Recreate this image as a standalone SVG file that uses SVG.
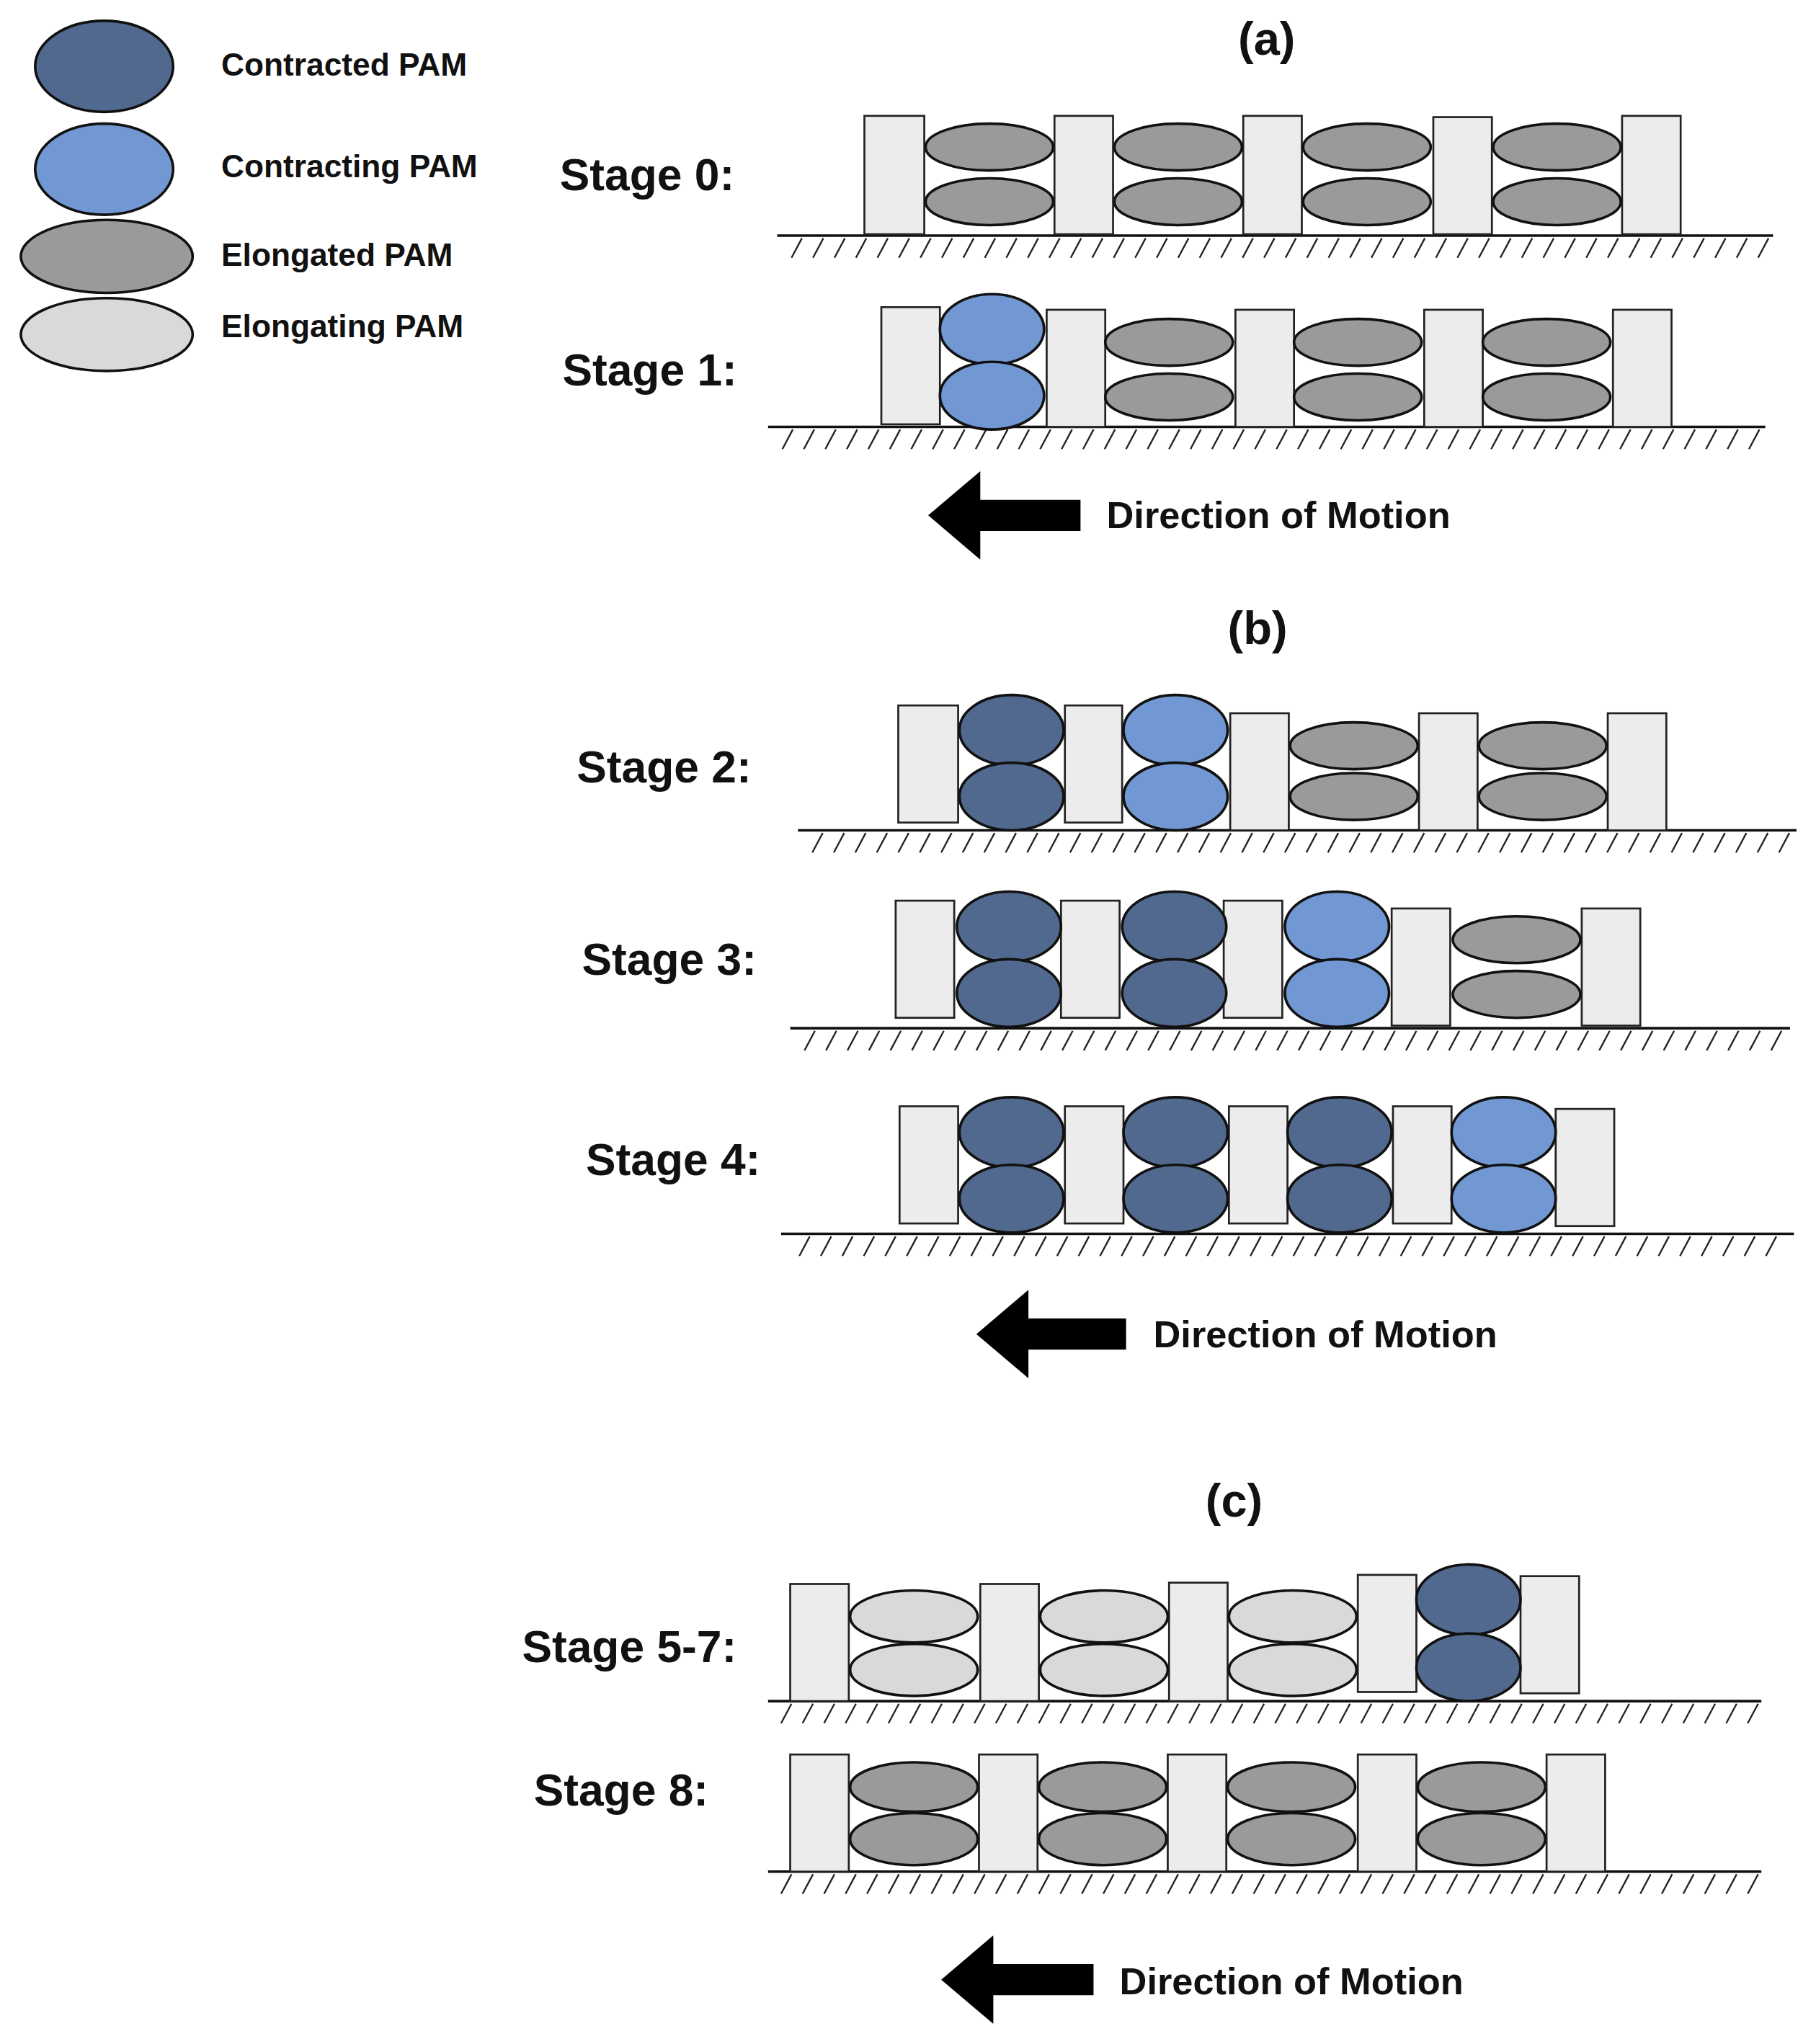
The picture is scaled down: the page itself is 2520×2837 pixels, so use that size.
<svg xmlns="http://www.w3.org/2000/svg" width="2520" height="2837" viewBox="0 0 2520 2837">
<style>
text{font-family:"Liberation Sans",Arial,sans-serif;font-weight:bold;fill:#111}
.lg{font-size:24.5px}.st{font-size:34.5px}.ti{font-size:36px}.dm{font-size:29px}
.b{fill:#ececec;stroke:#222;stroke-width:1.5}
.cd{fill:#52698f;stroke:#111;stroke-width:2}
.cg{fill:#7198d2;stroke:#111;stroke-width:2}
.eg{fill:#9b9999;stroke:#111;stroke-width:2}
.el{fill:#d9d9d9;stroke:#111;stroke-width:2}
.gl{stroke:#111;stroke-width:2}
.hl{fill:none;stroke:#222;stroke-width:1.3}
</style>
<defs>
<path id="hl" d="M16 2l-8 15m24.5-15l-8 15m24.5-15l-8 15m24.5-15l-8 15m24.5-15l-8 15m24.5-15l-8 15m24.5-15l-8 15m24.5-15l-8 15m24.5-15l-8 15m24.5-15l-8 15m24.5-15l-8 15m24.5-15l-8 15m24.5-15l-8 15m24.5-15l-8 15m24.5-15l-8 15m24.5-15l-8 15m24.5-15l-8 15m24.5-15l-8 15m24.5-15l-8 15m24.5-15l-8 15m24.5-15l-8 15m24.5-15l-8 15m24.5-15l-8 15m24.5-15l-8 15m24.5-15l-8 15m24.5-15l-8 15m24.5-15l-8 15m24.5-15l-8 15m24.5-15l-8 15m24.5-15l-8 15m24.5-15l-8 15m24.5-15l-8 15m24.5-15l-8 15m24.5-15l-8 15m24.5-15l-8 15m24.5-15l-8 15m24.5-15l-8 15m24.5-15l-8 15m24.5-15l-8 15m24.5-15l-8 15m24.5-15l-8 15m24.5-15l-8 15m24.5-15l-8 15m24.5-15l-8 15m24.5-15l-8 15m24.5-15l-8 15"/>
</defs>
<rect width="2520" height="2837" fill="#fff"/>
<g transform="scale(1.8065)">
<g id="legend">
<ellipse class="cd" cx="80" cy="51" rx="53" ry="35"/><text class="lg" x="170" y="58">Contracted PAM</text>
<ellipse class="cg" cx="80" cy="130" rx="53" ry="35"/><text class="lg" x="170" y="136">Contracting PAM</text>
<ellipse class="eg" cx="82" cy="197" rx="66" ry="28"/><text class="lg" x="170" y="204">Elongated PAM</text>
<ellipse class="el" cx="82" cy="257" rx="66" ry="28"/><text class="lg" x="170" y="259">Elongating PAM</text>
</g>
<text class="ti" x="973" y="42" text-anchor="middle">(a)</text>
<text class="ti" x="966" y="495" text-anchor="middle">(b)</text>
<text class="ti" x="948" y="1165" text-anchor="middle">(c)</text>
<g id="grounds">
<line class="gl" x1="597" y1="181" x2="1362" y2="181"/><use href="#hl" class="hl" x="600" y="181"/>
<line class="gl" x1="590" y1="328" x2="1356" y2="328"/><use href="#hl" class="hl" x="593" y="328"/>
<line class="gl" x1="613" y1="638" x2="1380" y2="638"/><use href="#hl" class="hl" x="616" y="638"/>
<line class="gl" x1="607" y1="790" x2="1375" y2="790"/><use href="#hl" class="hl" x="610" y="790"/>
<line class="gl" x1="600" y1="948" x2="1378" y2="948"/><use href="#hl" class="hl" x="606" y="948"/>
<line class="gl" x1="590" y1="1307" x2="1353" y2="1307"/><use href="#hl" class="hl" x="592" y="1307"/>
<line class="gl" x1="590" y1="1438" x2="1353" y2="1438"/><use href="#hl" class="hl" x="592" y="1438"/>
</g>
<g id="stage0">
<text class="st" x="430" y="146">Stage 0:</text>
<rect class="b" x="664" y="89" width="46" height="91"/><rect class="b" x="810" y="89" width="45" height="91"/><rect class="b" x="955" y="89" width="45" height="91"/><rect class="b" x="1101" y="90" width="45" height="90"/><rect class="b" x="1246" y="89" width="45" height="91"/>
<ellipse class="eg" cx="760" cy="113" rx="49" ry="18"/><ellipse class="eg" cx="760" cy="155" rx="49" ry="18"/>
<ellipse class="eg" cx="905" cy="113" rx="49" ry="18"/><ellipse class="eg" cx="905" cy="155" rx="49" ry="18"/>
<ellipse class="eg" cx="1050" cy="113" rx="49" ry="18"/><ellipse class="eg" cx="1050" cy="155" rx="49" ry="18"/>
<ellipse class="eg" cx="1196" cy="113" rx="49" ry="18"/><ellipse class="eg" cx="1196" cy="155" rx="49" ry="18"/>
</g>
<g id="stage1">
<text class="st" x="432" y="296">Stage 1:</text>
<rect class="b" x="677" y="236" width="45" height="90"/><rect class="b" x="804" y="238" width="45" height="90"/><rect class="b" x="949" y="238" width="45" height="90"/><rect class="b" x="1094" y="238" width="45" height="90"/><rect class="b" x="1239" y="238" width="45" height="90"/>
<ellipse class="cg" cx="762" cy="253" rx="40" ry="27"/><ellipse class="cg" cx="762" cy="304" rx="40" ry="26"/>
<ellipse class="eg" cx="898" cy="263" rx="49" ry="18"/><ellipse class="eg" cx="898" cy="305" rx="49" ry="18"/>
<ellipse class="eg" cx="1043" cy="263" rx="49" ry="18"/><ellipse class="eg" cx="1043" cy="305" rx="49" ry="18"/>
<ellipse class="eg" cx="1188" cy="263" rx="49" ry="18"/><ellipse class="eg" cx="1188" cy="305" rx="49" ry="18"/>
</g>
<g id="arrowA"><polygon points="713,396 753,362 753,384 830,384 830,408 753,408 753,430" fill="#000"/><text class="dm" x="850" y="406">Direction of Motion</text></g>
<g id="stage2">
<text class="st" x="443" y="601">Stage 2:</text>
<rect class="b" x="690" y="542" width="46" height="90"/><rect class="b" x="818" y="542" width="44" height="90"/><rect class="b" x="945" y="548" width="45" height="90"/><rect class="b" x="1090" y="548" width="45" height="90"/><rect class="b" x="1235" y="548" width="45" height="90"/>
<ellipse class="cd" cx="777" cy="561" rx="40" ry="27"/><ellipse class="cd" cx="777" cy="612" rx="40" ry="26"/>
<ellipse class="cg" cx="903" cy="561" rx="40" ry="27"/><ellipse class="cg" cx="903" cy="612" rx="40" ry="26"/>
<ellipse class="eg" cx="1040" cy="573" rx="49" ry="18"/><ellipse class="eg" cx="1040" cy="612" rx="49" ry="18"/>
<ellipse class="eg" cx="1185" cy="573" rx="49" ry="18"/><ellipse class="eg" cx="1185" cy="612" rx="49" ry="18"/>
</g>
<g id="stage3">
<text class="st" x="447" y="749">Stage 3:</text>
<rect class="b" x="688" y="692" width="45" height="90"/><rect class="b" x="815" y="692" width="45" height="90"/><rect class="b" x="940" y="692" width="45" height="90"/><rect class="b" x="1069" y="698" width="45" height="90"/><rect class="b" x="1215" y="698" width="45" height="90"/>
<ellipse class="cd" cx="775" cy="712" rx="40" ry="27"/><ellipse class="cd" cx="775" cy="763" rx="40" ry="26"/>
<ellipse class="cd" cx="902" cy="712" rx="40" ry="27"/><ellipse class="cd" cx="902" cy="763" rx="40" ry="26"/>
<ellipse class="cg" cx="1027" cy="712" rx="40" ry="27"/><ellipse class="cg" cx="1027" cy="763" rx="40" ry="26"/>
<ellipse class="eg" cx="1165" cy="722" rx="49" ry="18"/><ellipse class="eg" cx="1165" cy="764" rx="49" ry="18"/>
</g>
<g id="stage4">
<text class="st" x="450" y="903">Stage 4:</text>
<rect class="b" x="691" y="850" width="45" height="90"/><rect class="b" x="818" y="850" width="45" height="90"/><rect class="b" x="944" y="850" width="45" height="90"/><rect class="b" x="1070" y="850" width="45" height="90"/><rect class="b" x="1195" y="852" width="45" height="90"/>
<ellipse class="cd" cx="777" cy="870" rx="40" ry="27"/><ellipse class="cd" cx="777" cy="921" rx="40" ry="26"/>
<ellipse class="cd" cx="903" cy="870" rx="40" ry="27"/><ellipse class="cd" cx="903" cy="921" rx="40" ry="26"/>
<ellipse class="cd" cx="1029" cy="870" rx="40" ry="27"/><ellipse class="cd" cx="1029" cy="921" rx="40" ry="26"/>
<ellipse class="cg" cx="1155" cy="870" rx="40" ry="27"/><ellipse class="cg" cx="1155" cy="921" rx="40" ry="26"/>
</g>
<g id="arrowB"><polygon points="750,1025 790,991 790,1013 865,1013 865,1037 790,1037 790,1059" fill="#000"/><text class="dm" x="886" y="1035">Direction of Motion</text></g>
<g id="stage57">
<text class="st" x="401" y="1277">Stage 5-7:</text>
<rect class="b" x="607" y="1217" width="45" height="90"/><rect class="b" x="753" y="1217" width="45" height="90"/><rect class="b" x="898" y="1216" width="45" height="91"/><rect class="b" x="1043" y="1210" width="45" height="90"/><rect class="b" x="1168" y="1211" width="45" height="90"/>
<ellipse class="el" cx="702" cy="1242" rx="49" ry="20"/><ellipse class="el" cx="702" cy="1283" rx="49" ry="20"/>
<ellipse class="el" cx="848" cy="1242" rx="49" ry="20"/><ellipse class="el" cx="848" cy="1283" rx="49" ry="20"/>
<ellipse class="el" cx="993" cy="1242" rx="49" ry="20"/><ellipse class="el" cx="993" cy="1283" rx="49" ry="20"/>
<ellipse class="cd" cx="1128" cy="1229" rx="40" ry="27"/><ellipse class="cd" cx="1128" cy="1281" rx="40" ry="26"/>
</g>
<g id="stage8">
<text class="st" x="410" y="1387">Stage 8:</text>
<rect class="b" x="607" y="1348" width="45" height="90"/><rect class="b" x="752" y="1348" width="45" height="90"/><rect class="b" x="897" y="1348" width="45" height="90"/><rect class="b" x="1043" y="1348" width="45" height="90"/><rect class="b" x="1188" y="1348" width="45" height="90"/>
<ellipse class="eg" cx="702" cy="1373" rx="49" ry="19"/><ellipse class="eg" cx="702" cy="1413" rx="49" ry="20"/>
<ellipse class="eg" cx="847" cy="1373" rx="49" ry="19"/><ellipse class="eg" cx="847" cy="1413" rx="49" ry="20"/>
<ellipse class="eg" cx="992" cy="1373" rx="49" ry="19"/><ellipse class="eg" cx="992" cy="1413" rx="49" ry="20"/>
<ellipse class="eg" cx="1138" cy="1373" rx="49" ry="19"/><ellipse class="eg" cx="1138" cy="1413" rx="49" ry="20"/>
</g>
<g id="arrowC"><polygon points="723,1521 763,1487 763,1509 840,1509 840,1533 763,1533 763,1555" fill="#000"/><text class="dm" x="860" y="1532">Direction of Motion</text></g>
</g>
</svg>
